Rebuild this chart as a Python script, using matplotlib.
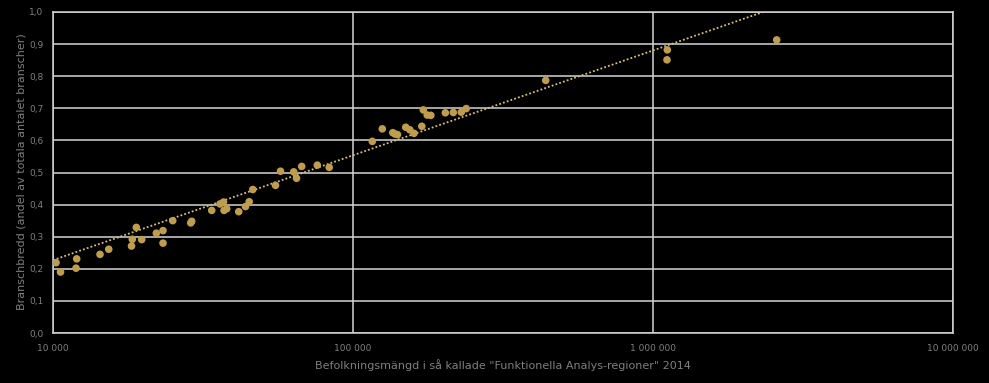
import numpy as np
import matplotlib
matplotlib.use("Agg")
import matplotlib.pyplot as plt
from matplotlib.ticker import FuncFormatter, FixedLocator

plt.rcParams['font.family'] = ['Liberation Sans Narrow', 'DejaVu Sans']

# population per functional analysis region (FA-region), 2014
population = [10233, 10593, 11931, 11995, 14344, 15336, 18267, 18377, 18952, 19756,
              22102, 23263, 23263, 25061, 28774, 28995, 33806, 36030, 37010, 37154,
              37931, 41591, 43830, 45082, 46345, 55167, 57320, 63436, 64819, 67453,
              76033, 83311, 115964, 125200, 135740, 138038, 140710, 149880, 154650, 159700,
              169570, 171530, 176750, 181700, 203150, 215980, 229610, 238400, 438880, 1116000,
              1113400, 2584000]

# industry breadth (share of total number of industries)
breadth = [0.219, 0.190, 0.202, 0.231, 0.245, 0.261, 0.271, 0.292, 0.329, 0.291,
           0.311, 0.319, 0.280, 0.350, 0.343, 0.348, 0.382, 0.402, 0.408, 0.382,
           0.387, 0.378, 0.394, 0.409, 0.447, 0.460, 0.504, 0.502, 0.482, 0.519,
           0.523, 0.516, 0.597, 0.636, 0.624, 0.620, 0.618, 0.641, 0.633, 0.622,
           0.644, 0.695, 0.679, 0.678, 0.686, 0.687, 0.688, 0.699, 0.787, 0.882,
           0.851, 0.913]

# logarithmic trend line: value at 10 000 and rise per decade
trend_at_10k = 0.227
trend_per_decade = 0.3266

x_ticks = [1e4, 1e5, 1e6, 1e7]
y_ticks = [0.0, 0.1, 0.2, 0.3, 0.4, 0.5, 0.6, 0.7, 0.8, 0.9, 1.0]

gold = '#bf9d4c'
grid_col = '#d4d4d4'
text_col = '#7f7f7f'

fig = plt.figure(figsize=(9.89, 3.83), dpi=100, facecolor='black')
ax = fig.add_axes([0.0536, 0.1305, 0.9100, 0.8382])
ax.set_facecolor('black')

ax.set_xscale('log')
ax.set_xlim(1e4, 1e7)
ax.set_ylim(0, 1.0)

ax.xaxis.set_major_locator(FixedLocator(x_ticks))
ax.xaxis.set_minor_locator(FixedLocator([]))
ax.yaxis.set_major_locator(FixedLocator(y_ticks))
ax.xaxis.set_major_formatter(FuncFormatter(lambda v, p: f"{int(round(v)):,}".replace(",", " ")))
ax.yaxis.set_major_formatter(FuncFormatter(lambda v, p: f"{v:.1f}".replace(".", ",")))

ax.grid(True, color=grid_col, linewidth=1.1)
ax.set_axisbelow(True)
for s in ax.spines.values():
    s.set_color(grid_col)
    s.set_linewidth(1.1)

ax.tick_params(axis='both', length=0, colors=text_col, labelsize=6.5)
ax.tick_params(axis='y', pad=7)
ax.tick_params(axis='x', pad=8)

# trend line
tx = np.logspace(4, 7, 200)
ty = trend_at_10k + trend_per_decade * np.log10(tx / 1e4)
ax.plot(tx, ty, linestyle=(0, (1, 1.2)), color='#d8bf82', linewidth=1.3, zorder=2)

ax.scatter(population, breadth, s=30, color=gold, edgecolors='none', zorder=3)

# axis titles
fig.text(22 / 989, 1 - 172 / 383, "Branschbredd (andel av totala antalet branscher)",
         color=text_col, fontsize=8, rotation=90, ha='center', va='center')
ax.set_xlabel('Befolkningsmängd i så kallade "Funktionella Analys-regioner" 2014', color=text_col,
              fontsize=8, labelpad=4)

fig.savefig("out.png", dpi=100, facecolor='black')
